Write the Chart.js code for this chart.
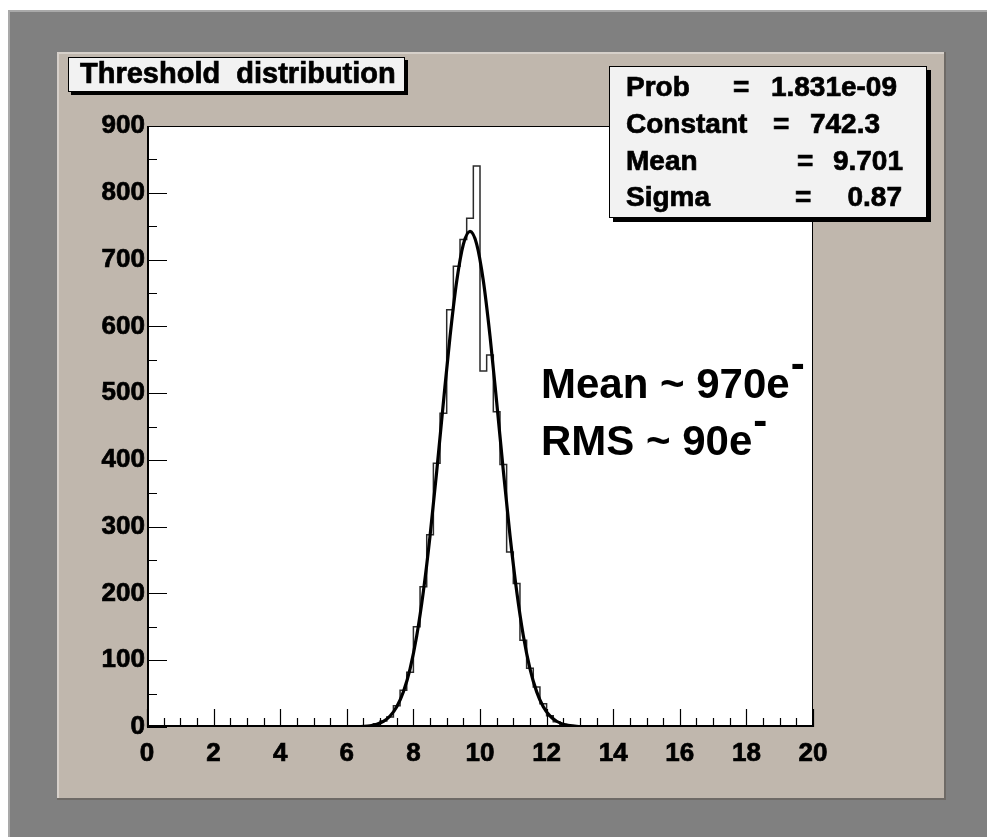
<!DOCTYPE html>
<html>
<head>
<meta charset="utf-8">
<script src="https://cdn.jsdelivr.net/npm/chart.js@4.4.1/dist/chart.umd.min.js"></script>
<style>
html,body{margin:0;padding:0;background:#fff;}
#wrap{width:987px;height:837px;}
</style>
</head>
<body>
<div id="wrap"><canvas id="myChart" width="987" height="837"></canvas></div>
<script>
// histogram: low edge of each bin (width 0.2) and entries
var binLow = [5.8,6.0,6.2,6.4,6.6,6.8,7.0,7.2,7.4,7.6,7.8,8.0,8.2,8.4,8.6,8.8,9.0,9.2,9.4,9.6,
              9.8,10.0,10.2,10.4,10.6,10.8,11.0,11.2,11.4,11.6,11.8,12.0,12.2,12.4,12.6,12.8,13.0,13.2,13.4];
var counts = [0,0,1,1,2,5,9,15,32,55,82,150,210,288,395,470,625,690,730,762,
              840,533,557,472,393,262,215,130,88,60,35,17,8,4,2,1,0,0,0];
var binWidth = 0.2;

// gaussian fit curve as drawn
var fitX = [6.1,6.3,6.5,6.7,6.9,7.1,7.3,7.5,7.7,7.9,8.1,8.3,8.5,8.7,8.9,9.1,9.3,9.5,9.7,
            9.9,10.1,10.3,10.5,10.7,10.9,11.1,11.3,11.5,11.7,11.9,12.1,12.3,12.5,12.7,12.9,13.1,13.3];
var fitY = [0.1,0.4,0.9,1.9,4.2,8.5,16.5,30.3,52.7,87.1,136.6,203.1,286.2,382.9,485.8,584.7,667.5,722.8,742.3,
            723.2,668.2,585.7,486.9,383.9,287.2,203.8,137.1,87.5,53.0,30.4,16.6,8.6,4.2,2.0,0.9,0.4,0.1];

var titulo = 'Threshold  distribution';
var statNames = ['Prob', 'Constant', 'Mean', 'Sigma'];
var statValues = ['1.831e-09', '742.3', '9.701', '0.87'];
var notas = ['Mean ~ 970e', 'RMS ~ 90e'];

var fuente = '"Liberation Sans", Arial, Helvetica, sans-serif';

var histPts = binLow.map(function(x, i){ return {x: x, y: counts[i]}; });
histPts.push({x: binLow[binLow.length-1] + binWidth, y: 0});
var fitPts = fitX.map(function(x, i){ return {x: x, y: fitY[i]}; });

function texto(ctx, s, x, y, size, align){
    ctx.font = 'bold ' + size + 'px ' + fuente;
    ctx.textAlign = align || 'left';
    ctx.textBaseline = 'middle';
    ctx.fillStyle = '#000';
    ctx.strokeStyle = '#000';
    ctx.lineWidth = 0.7;
    ctx.fillText(s, x, y);
    ctx.strokeText(s, x, y);
}

function caja(ctx, x, y, w, h, sombra){
    ctx.fillStyle = '#000';
    ctx.fillRect(x + sombra, y + sombra, w, h);
    ctx.fillStyle = '#f2f2f2';
    ctx.fillRect(x, y, w, h);
    ctx.strokeStyle = '#000';
    ctx.lineWidth = 1;
    ctx.strokeRect(x + 0.5, y + 0.5, w - 1, h - 1);
}

var estiloRoot = {
    id: 'estiloRoot',
    beforeDraw: function(chart){
        var ctx = chart.ctx, a = chart.chartArea;
        ctx.save();
        ctx.fillStyle = '#fff';
        ctx.fillRect(0, 0, 987, 837);
        // outer grey frame
        ctx.fillStyle = '#808080';
        ctx.fillRect(8, 10, 979, 827);
        ctx.fillStyle = '#a9a9a9';
        ctx.fillRect(8, 10, 979, 2);
        ctx.fillRect(8, 10, 2, 827);
        // beige pad
        ctx.fillStyle = '#c0b7ad';
        ctx.fillRect(57, 52, 888, 747);
        ctx.fillStyle = '#d6d0ca';
        ctx.fillRect(57, 52, 888, 2);
        ctx.fillRect(57, 52, 2, 747);
        ctx.fillStyle = '#6e6a66';
        ctx.fillRect(57, 798, 888, 2);
        ctx.fillRect(944, 52, 2, 748);
        // plot frame background
        ctx.fillStyle = '#fff';
        ctx.fillRect(a.left, a.top, a.right - a.left, a.bottom - a.top);
        ctx.restore();
    },
    afterDraw: function(chart){
        var ctx = chart.ctx, a = chart.chartArea;
        var sx = chart.scales.x, sy = chart.scales.y;
        ctx.save();
        // frame
        ctx.strokeStyle = '#000';
        ctx.lineWidth = 1;
        ctx.strokeRect(a.left + 0.5, a.top + 0.5, a.right - a.left - 1, a.bottom - a.top - 1);
        ctx.lineWidth = 2;
        ctx.beginPath();
        ctx.moveTo(a.left + 1, a.top);
        ctx.lineTo(a.left + 1, a.bottom - 1);
        ctx.lineTo(a.right, a.bottom - 1);
        ctx.stroke();
        // inward ticks
        ctx.lineWidth = 1.2;
        ctx.beginPath();
        for (var v = 0; v <= 20.001; v += 0.5) {
            var px = Math.round(sx.getPixelForValue(v)) + 0.5;
            var largo = (Math.abs(v / 2 - Math.round(v / 2)) < 0.01) ? 18 : 9;
            ctx.moveTo(px, a.bottom);
            ctx.lineTo(px, a.bottom - largo);
        }
        for (var c = 0; c <= 900; c += 50) {
            var py = Math.round(sy.getPixelForValue(c)) + 0.5;
            var l2 = (c % 100 === 0) ? 20 : 10;
            ctx.moveTo(a.left, py);
            ctx.lineTo(a.left + l2, py);
        }
        ctx.stroke();

        // title box
        caja(ctx, 68, 57, 337, 35, 3);
        texto(ctx, titulo, 80, 75, 29);

        // stats box
        caja(ctx, 609, 66, 318, 152, 4);
        var filas = [88, 125, 162, 198];
        var igualX = [733, 773, 797, 795];
        var finX = [897, 880, 903, 902];
        for (var i = 0; i < statNames.length; i++) {
            texto(ctx, statNames[i], 626, filas[i], 28);
            texto(ctx, '=', igualX[i], filas[i], 28);
            texto(ctx, statValues[i], finX[i], filas[i], 28, 'right');
        }

        // annotation
        var base = [398, 455];
        ctx.fillStyle = '#000';
        ctx.textBaseline = 'alphabetic';
        ctx.textAlign = 'left';
        for (var j = 0; j < notas.length; j++) {
            ctx.font = 'bold 42px ' + fuente;
            ctx.fillText(notas[j], 541, base[j]);
            var w = ctx.measureText(notas[j]).width;
            ctx.fillText('-', 541 + w + 1, base[j] - 20);
        }
        ctx.restore();
    }
};

var tickFont = {family: fuente, size: 26, weight: 'bold'};

var ctx = document.getElementById('myChart');
var myChart = new Chart(ctx, {
    type: 'line',
    data: {
        datasets: [{
            label: 'fit',
            data: fitPts,
            borderColor: '#000',
            borderWidth: 3.2,
            pointRadius: 0,
            cubicInterpolationMode: 'monotone',
            order: 0
        }, {
            label: 'Threshold',
            data: histPts,
            borderColor: '#2b2b2b',
            borderWidth: 1.5,
            pointRadius: 0,
            stepped: 'before',
            order: 1
        }]
    },
    options: {
        responsive: false,
        animation: false,
        devicePixelRatio: 1,
        layout: {padding: {left: 87, top: 126, right: 174, bottom: 60}},
        plugins: {
            legend: {display: false},
            tooltip: {enabled: false}
        },
        scales: {
            x: {
                type: 'linear',
                min: 0,
                max: 20,
                grid: {display: false, drawTicks: false},
                border: {display: false},
                ticks: {stepSize: 2, color: '#000', font: tickFont, padding: 11, maxRotation: 0, autoSkip: false,
                        textStrokeColor: '#000', textStrokeWidth: 0.7},
                afterFit: function(s){ s.height = 50; s.paddingLeft = 0; s.paddingRight = 0; }
            },
            y: {
                type: 'linear',
                min: 0,
                max: 900,
                grid: {display: false, drawTicks: false},
                border: {display: false},
                ticks: {stepSize: 100, color: '#000', font: tickFont, padding: 2, autoSkip: false,
                        textStrokeColor: '#000', textStrokeWidth: 0.7},
                afterFit: function(s){ s.width = 60; s.paddingTop = 0; s.paddingBottom = 0; }
            }
        }
    },
    plugins: [estiloRoot]
});
</script>
</body>
</html>
